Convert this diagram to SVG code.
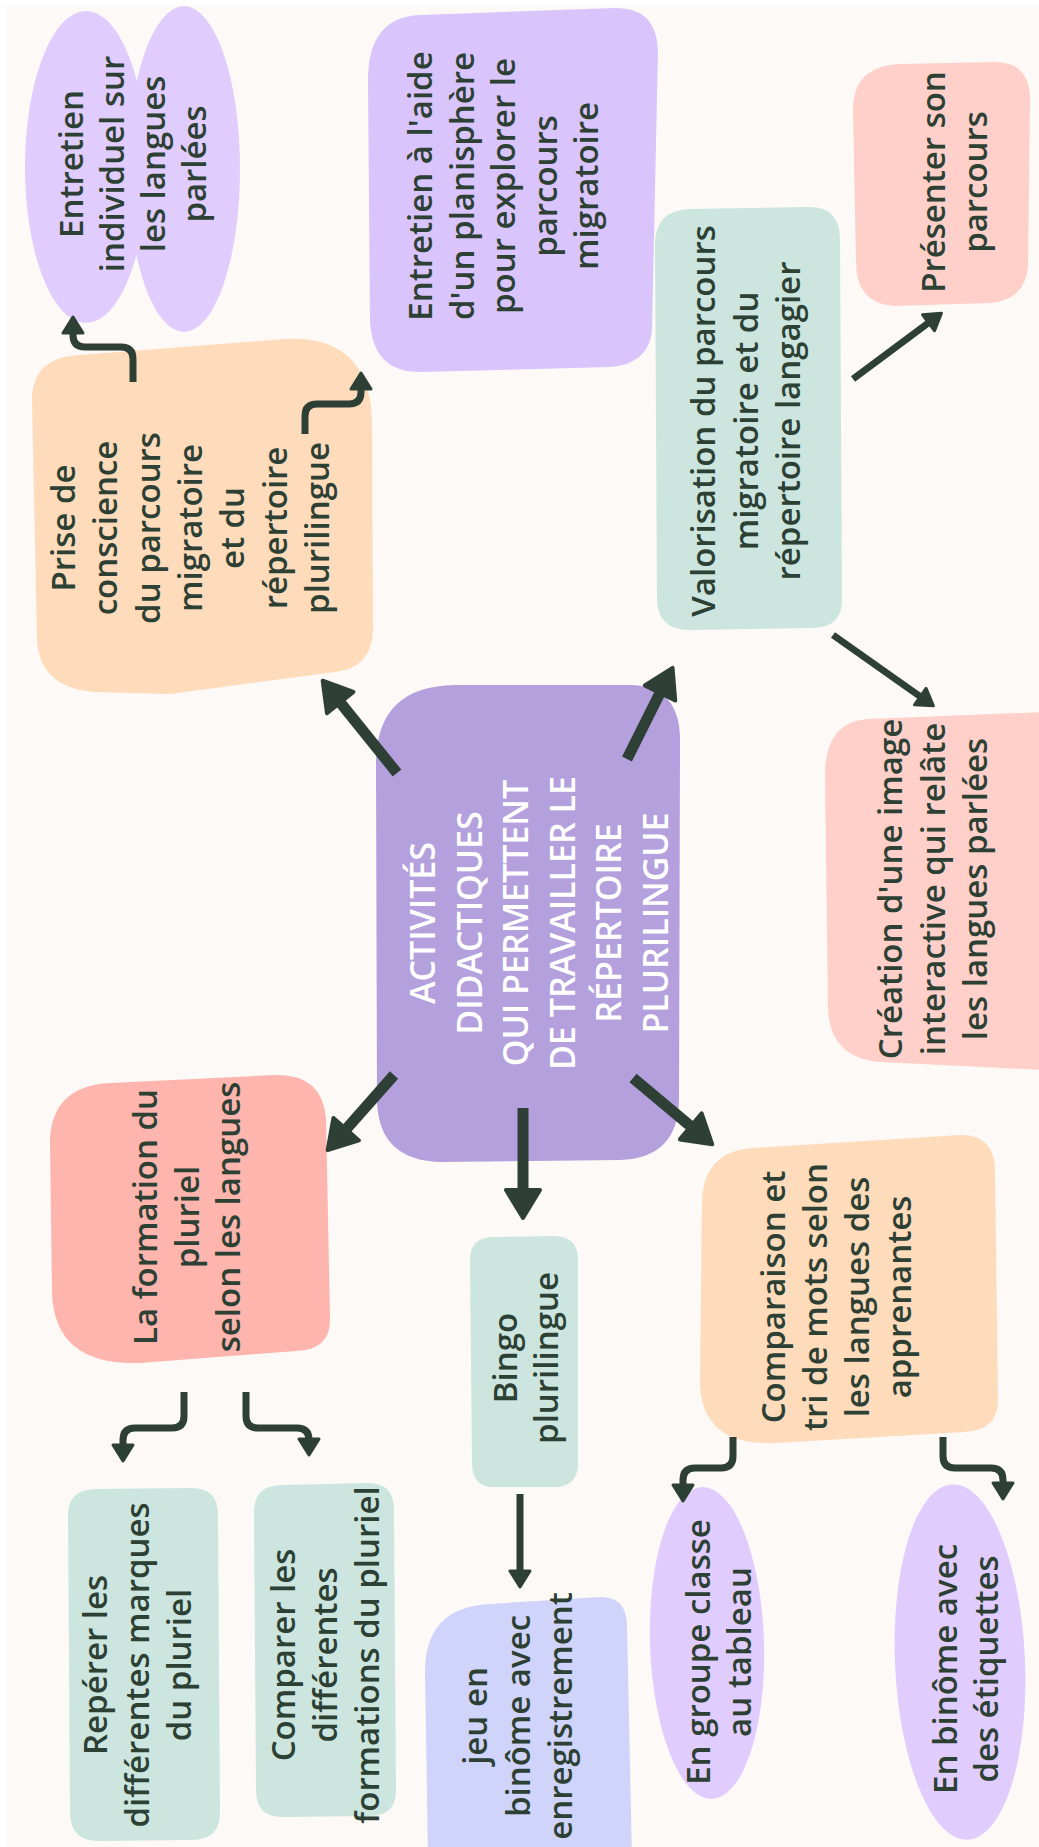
<svg xmlns="http://www.w3.org/2000/svg" width="1039" height="1847" viewBox="0 0 1039 1847">
<style>
.t{font-family:"Open Sans","Noto Sans","DejaVu Sans",sans-serif;font-size:33px;font-weight:600;fill:#2D4034;text-anchor:middle}
.w{fill:#FFFFFF;font-size:34px}
.c{fill:none;stroke:#2E4035;stroke-linecap:butt;stroke-linejoin:round}
.k{stroke-width:11}
.n{stroke-width:7}
.lav{fill:#E0CDFD}
.mint{fill:#CCE6DF}
.peach{fill:#FEDBBA}
.pink{fill:#FFD0C9}
</style>
<defs>
<marker id="hk" markerUnits="userSpaceOnUse" markerWidth="60" markerHeight="60" refX="8" refY="0" orient="auto" overflow="visible">
<path d="M0,-17 L28,0 L0,17 Z" fill="#2E4035" stroke="#2E4035" stroke-width="4" stroke-linejoin="round"/>
</marker>
<marker id="hn" markerUnits="userSpaceOnUse" markerWidth="40" markerHeight="40" refX="5" refY="0" orient="auto" overflow="visible">
<path d="M0,-10 L16,0 L0,10 Z" fill="#2E4035" stroke="#2E4035" stroke-width="3" stroke-linejoin="round"/>
</marker>
</defs>
<rect x="0" y="0" width="1039" height="1847" fill="#FFFFFF"/>
<rect x="7" y="5" width="1040" height="1850" fill="#FDF9F6"/>

<g id="n-entretien-individuel">
<ellipse class="lav" cx="86" cy="167" rx="61" ry="156"/>
<ellipse class="lav" cx="184" cy="169" rx="56" ry="163"/>
<text class="t" transform="translate(83,164) rotate(-90)"><tspan x="0" y="0">Entretien</tspan><tspan x="0" y="41">individuel sur</tspan><tspan x="0" y="82">les langues</tspan><tspan x="0" y="123">parlées</tspan></text>
</g>

<g id="n-entretien-planisphere">
<path fill="#D9C5FB" d="M368,80 Q368,17 420,15 L615,8 Q656,7 658,50 L652,330 Q649,364 610,367 L420,372 Q372,372 370,320 Z"/>
<text class="t" transform="translate(432,186) rotate(-90)"><tspan x="0" y="0">Entretien à l'aide</tspan><tspan x="0" y="41.5">d'un planisphère</tspan><tspan x="0" y="83">pour explorer le</tspan><tspan x="0" y="124.5">parcours</tspan><tspan x="0" y="166">migratoire</tspan></text>
</g>

<g id="n-presenter">
<path class="pink" d="M853,110 Q853,66 900,64 L995,62 Q1030,62 1030,100 L1028,265 Q1026,300 990,303 L895,306 Q856,304 856,262 Z"/>
<text class="t" transform="translate(945,182) rotate(-90)"><tspan x="0" y="0">Présenter son</tspan><tspan x="0" y="42">parcours</tspan></text>
</g>

<g id="n-valorisation">
<path class="mint" d="M655,245 Q655,210 690,209 L810,207 Q840,207 840,240 L842,600 Q842,628 812,628 L690,630 Q657,630 657,598 Z"/>
<text class="t" transform="translate(715,421) rotate(-90)"><tspan x="0" y="0">Valorisation du parcours</tspan><tspan x="0" y="42.5">migratoire et du</tspan><tspan x="0" y="85">répertoire langagier</tspan></text>
</g>

<g id="n-prise">
<path class="peach" d="M32,400 Q32,357 80,355 L285,339 Q372,335 372,425 L373,630 Q372,668 335,672 L170,694 L95,692 Q40,688 37,640 Z"/>
<text class="t" transform="translate(75,528) rotate(-90)"><tspan x="0" y="0">Prise de</tspan><tspan x="0" y="42.3">conscience</tspan><tspan x="0" y="84.6">du parcours</tspan><tspan x="0" y="126.9">migratoire</tspan><tspan x="0" y="169.2">et du</tspan><tspan x="0" y="211.5">répertoire</tspan><tspan x="0" y="253.8">plurilingue</tspan></text>
</g>

<g id="n-centre">
<path fill="#B3A0DD" d="M376,760 Q378,686 455,685 L630,685 Q680,686 680,740 L679,1100 Q678,1158 620,1160 L440,1162 Q378,1160 377,1100 Z"/>
<text class="t w" transform="translate(435,923) rotate(-90)"><tspan x="0" y="0">ACTIVITÉS</tspan><tspan x="0" y="46.6">DIDACTIQUES</tspan><tspan x="0" y="93.2">QUI PERMETTENT</tspan><tspan x="0" y="139.8">DE TRAVAILLER LE</tspan><tspan x="0" y="186.4">RÉPERTOIRE</tspan><tspan x="0" y="233">PLURILINGUE</tspan></text>
</g>

<g id="n-creation">
<path class="pink" d="M868,719 L1045,712 L1045,1070 L880,1062 Q828,1058 828,1005 L825,775 Q825,722 868,719 Z"/>
<text class="t" transform="translate(902,889) rotate(-90)"><tspan x="0" y="0">Création d'une image</tspan><tspan x="0" y="42.5">interactive qui relâte</tspan><tspan x="0" y="85">les langues parlées</tspan></text>
</g>

<g id="n-formation">
<path fill="#FDB5AE" d="M50,1140 Q52,1086 110,1083 L275,1075 Q322,1074 326,1118 L330,1318 Q331,1350 296,1351 L140,1363 Q56,1366 52,1295 Z"/>
<text class="t" transform="translate(157,1217) rotate(-90)"><tspan x="0" y="0">La formation du</tspan><tspan x="0" y="41.5">pluriel</tspan><tspan x="0" y="83">selon les langues</tspan></text>
</g>

<g id="n-bingo">
<path class="mint" d="M470,1260 Q470,1237 494,1237 L554,1236 Q578,1236 578,1260 L578,1463 Q578,1487 554,1487 L494,1487 Q472,1487 472,1463 Z"/>
<text class="t" transform="translate(517,1358) rotate(-90)"><tspan x="0" y="0">Bingo</tspan><tspan x="0" y="41">plurilingue</tspan></text>
</g>

<g id="n-comparaison">
<path class="peach" d="M702,1200 Q704,1152 752,1148 L960,1135 Q994,1134 995,1170 L998,1400 Q998,1430 965,1432 L775,1443 Q703,1446 700,1385 Z"/>
<text class="t" transform="translate(785,1297) rotate(-90)"><tspan x="0" y="0">Comparaison et</tspan><tspan x="0" y="42">tri de mots selon</tspan><tspan x="0" y="84">les langues des</tspan><tspan x="0" y="126">apprenantes</tspan></text>
</g>

<g id="n-reperer">
<path class="mint" d="M68,1515 Q68,1490 95,1489 L192,1488 Q218,1488 218,1515 L220,1812 Q220,1840 192,1840 L98,1841 Q70,1841 70,1812 Z"/>
<text class="t" transform="translate(107,1665) rotate(-90)"><tspan x="0" y="0">Repérer les</tspan><tspan x="0" y="42">différentes marques</tspan><tspan x="0" y="84">du pluriel</tspan></text>
</g>

<g id="n-comparer">
<path class="mint" d="M254,1512 Q254,1485 282,1485 L368,1483 Q394,1483 394,1510 L396,1790 Q396,1816 370,1816 L282,1817 Q256,1817 256,1790 Z"/>
<text class="t" transform="translate(295,1655) rotate(-90)"><tspan x="0" y="0">Comparer les</tspan><tspan x="0" y="42">différentes</tspan><tspan x="0" y="84">formations du pluriel</tspan></text>
</g>

<g id="n-jeu">
<path fill="#D0D4FA" d="M425,1670 Q426,1607 490,1604 L600,1597 Q626,1596 627,1625 L632,1860 L428,1860 Z"/>
<text class="t" transform="translate(487,1716) rotate(-90)"><tspan x="0" y="0">jeu en</tspan><tspan x="0" y="42.5">binôme avec</tspan><tspan x="0" y="85">enregistrement</tspan></text>
</g>

<g id="n-groupe">
<ellipse class="lav" cx="707" cy="1643" rx="57" ry="156" transform="rotate(-1.8 707 1643)"/>
<text class="t" transform="translate(710,1652) rotate(-90)"><tspan x="0" y="0">En groupe classe</tspan><tspan x="0" y="41">au tableau</tspan></text>
</g>

<g id="n-binome">
<ellipse class="lav" cx="960" cy="1662" rx="65" ry="178" transform="rotate(-2.5 960 1662)"/>
<text class="t" transform="translate(957,1669) rotate(-90)"><tspan x="0" y="0">En binôme avec</tspan><tspan x="0" y="41">des étiquettes</tspan></text>
</g>

<g id="connectors">
<line class="c k" x1="397" y1="773" x2="335.2" y2="696.3" marker-end="url(#hk)"/>
<line class="c k" x1="394" y1="1075" x2="340.9" y2="1135.2" marker-end="url(#hk)"/>
<line class="c k" x1="523" y1="1108" x2="523" y2="1198" marker-end="url(#hk)"/>
<line class="c k" x1="633" y1="1078" x2="696.9" y2="1131.5" marker-end="url(#hk)"/>
<line class="c k" x1="627" y1="759" x2="663.6" y2="685.8" marker-end="url(#hk)"/>
<line class="c n" x1="853" y1="379" x2="932.6" y2="319.8" marker-end="url(#hn)"/>
<line class="c n" x1="833" y1="635" x2="924.4" y2="699.5" marker-end="url(#hn)"/>
<line class="c n" x1="520" y1="1494" x2="520" y2="1576" marker-end="url(#hn)"/>
<path class="c n" d="M133,382 V359 Q133,347 121,347 H85 Q73,347 73,335 V328" marker-end="url(#hn)"/>
<path class="c n" d="M305,434 V416 Q305,404 317,404 H349 Q361,404 361,392 V384" marker-end="url(#hn)"/>
<path class="c n" d="M184,1392 V1416 Q184,1428 172,1428 H135 Q123,1428 123,1440 V1450" marker-end="url(#hn)"/>
<path class="c n" d="M246,1392 V1416 Q246,1428 258,1428 H297 Q309,1428 309,1440 V1444" marker-end="url(#hn)"/>
<path class="c n" d="M733,1437 V1456 Q733,1468 721,1468 H695 Q683,1468 683,1480 V1490" marker-end="url(#hn)"/>
<path class="c n" d="M943,1437 V1456 Q943,1468 955,1468 H991 Q1003,1468 1003,1480 V1488" marker-end="url(#hn)"/>
</g>
</svg>
